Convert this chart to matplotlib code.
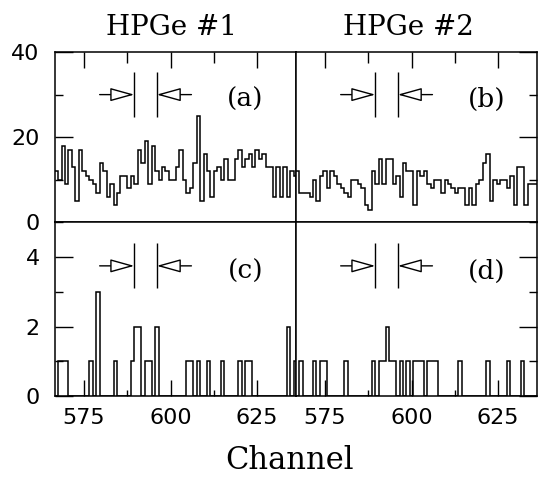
import matplotlib
matplotlib.use('Agg')
import matplotlib.pyplot as plt
from matplotlib.ticker import FixedLocator
import numpy as np

# canais (bins centrados em inteiros)
channels = np.arange(567, 637)

# (a) HPGe #1, espectro total
hpge1_all = [12, 10, 18, 9, 17, 13, 5, 17, 12, 11,
             10, 9, 7, 14, 12, 6, 9, 4, 7, 11,
             11, 8, 11, 9, 17, 14, 19, 9, 18, 12,
             10, 13, 12, 10, 10, 13, 17, 10, 7, 8,
             14, 25, 5, 16, 12, 6, 12, 13, 10, 15,
             10, 10, 15, 17, 13, 15, 16, 13, 17, 15,
             16, 13, 13, 6, 13, 6, 13, 6, 12, 11]

# (b) HPGe #2, espectro total
hpge2_all = [12, 7, 7, 7, 6, 10, 5, 11, 12, 8,
             12, 11, 9, 8, 7, 6, 10, 10, 9, 8,
             4, 3, 12, 9, 15, 9, 15, 15, 9, 11,
             6, 14, 12, 12, 4, 12, 11, 12, 9, 8,
             10, 10, 7, 10, 9, 8, 7, 8, 8, 4,
             8, 4, 9, 10, 14, 16, 5, 10, 9, 10,
             10, 8, 11, 4, 13, 13, 4, 9, 9, 9]

# (c) HPGe #1 com cortes: so os canais nao nulos
hpge1_cut_ch = [568, 569, 570, 577, 579, 584, 589, 590, 591, 593, 594, 596,
                605, 606, 608, 611, 615, 620, 622, 623, 634, 636]
hpge1_cut_n = [1, 1, 1, 1, 3, 1, 1, 2, 2, 1, 1, 2,
               1, 1, 1, 1, 1, 1, 1, 1, 2, 1]

# (d) HPGe #2 com cortes
hpge2_cut_ch = [568, 572, 574, 575, 581, 589, 591, 592, 593, 594, 595, 597,
                599, 601, 602, 603, 605, 606, 607, 614, 622, 628, 632]
hpge2_cut_n = [1, 1, 1, 1, 1, 1, 1, 1, 2, 1, 1, 1,
               1, 1, 1, 1, 1, 1, 1, 1, 1, 1, 1]

# janela de interesse (setas)
window = [589.5, 596.0]

titles = ['HPGe #1', 'HPGe #2']
panel_labels = ['(a)', '(b)', '(c)', '(d)']


def sparse_to_full(chs, counts):
    full = np.zeros(len(channels))
    for c, n in zip(chs, counts):
        full[c - channels[0]] = n
    return full


edges = np.append(channels - 0.5, channels[-1] + 0.5)
data = [np.array(hpge1_all), np.array(hpge2_all),
        sparse_to_full(hpge1_cut_ch, hpge1_cut_n),
        sparse_to_full(hpge2_cut_ch, hpge2_cut_n)]

fig = plt.figure(figsize=(5.38, 4.8), dpi=100)
lefts = [0.1022, 0.5502]
w = 0.448
ax_a = fig.add_axes([lefts[0], 0.5365, w, 0.3552])
ax_b = fig.add_axes([lefts[1], 0.5365, w, 0.3552])
ax_c = fig.add_axes([lefts[0], 0.175, w, 0.3615])
ax_d = fig.add_axes([lefts[1], 0.175, w, 0.3615])
axes = [ax_a, ax_b, ax_c, ax_d]

for i, ax in enumerate(axes):
    top = i < 2
    left = i % 2 == 0
    ax.stairs(data[i], edges, color='black', lw=1.1,
              baseline=None if top else 0)
    ax.set_xlim(566.6, 636.2)
    if top:
        ax.set_ylim(0, 40)
        ax.yaxis.set_major_locator(FixedLocator([0, 20, 40]))
        ax.yaxis.set_minor_locator(FixedLocator([10, 30]))
    else:
        ax.set_ylim(0, 5)
        ax.yaxis.set_major_locator(FixedLocator([0, 2, 4]))
        ax.yaxis.set_minor_locator(FixedLocator([1, 3, 5]))
    ax.xaxis.set_major_locator(FixedLocator([575, 600, 625]))
    ax.xaxis.set_minor_locator(FixedLocator([587.5, 612.5]))

    for s in ax.spines.values():
        s.set_linewidth(1.1)

    # ticks
    ax.tick_params(axis='x', which='both', direction='in', width=1.0,
                   top=top, bottom=not top, labelbottom=not top,
                   labeltop=False, labelsize=16, pad=9)
    ax.tick_params(axis='x', which='major', length=11.5)
    ax.tick_params(axis='x', which='minor', length=8 if top else 4)
    ax.tick_params(axis='y', which='both', direction='in', width=1.0,
                   left=left, right=not left, labelleft=left,
                   labelright=False, labelsize=16, pad=11)
    ax.tick_params(axis='y', which='major', length=13)
    ax.tick_params(axis='y', which='minor', length=6)

    # marcas da janela e setas
    tr = ax.get_xaxis_transform()
    ax.vlines(window, 0.62, 0.88, transform=tr, color='black', lw=1.0)
    head = '-|>,head_length=1.15,head_width=0.32'
    ax.annotate('', xy=(window[0], 0.75), xytext=(window[0] - 10, 0.75),
                xycoords=tr, textcoords=tr,
                arrowprops=dict(arrowstyle=head, fc='white', ec='black',
                                lw=1.0, shrinkA=0, shrinkB=0, mutation_scale=13))
    ax.annotate('', xy=(window[1], 0.75), xytext=(window[1] + 10, 0.75),
                xycoords=tr, textcoords=tr,
                arrowprops=dict(arrowstyle=head, fc='white', ec='black',
                                lw=1.0, shrinkA=0, shrinkB=0, mutation_scale=13))

    ax.text(0.79, 0.72, panel_labels[i], transform=ax.transAxes,
            family='DejaVu Serif', fontsize=19, ha='center', va='center')

fig.text(0.319, 0.927, titles[0], family='DejaVu Serif', fontsize=20,
         ha='center', va='baseline')
fig.text(0.759, 0.927, titles[1], family='DejaVu Serif', fontsize=20,
         ha='center', va='baseline')
fig.text(0.539, 0.022, 'Channel', family='DejaVu Serif', fontsize=22,
         ha='center', va='baseline')

fig.savefig('out.png', dpi=100)
